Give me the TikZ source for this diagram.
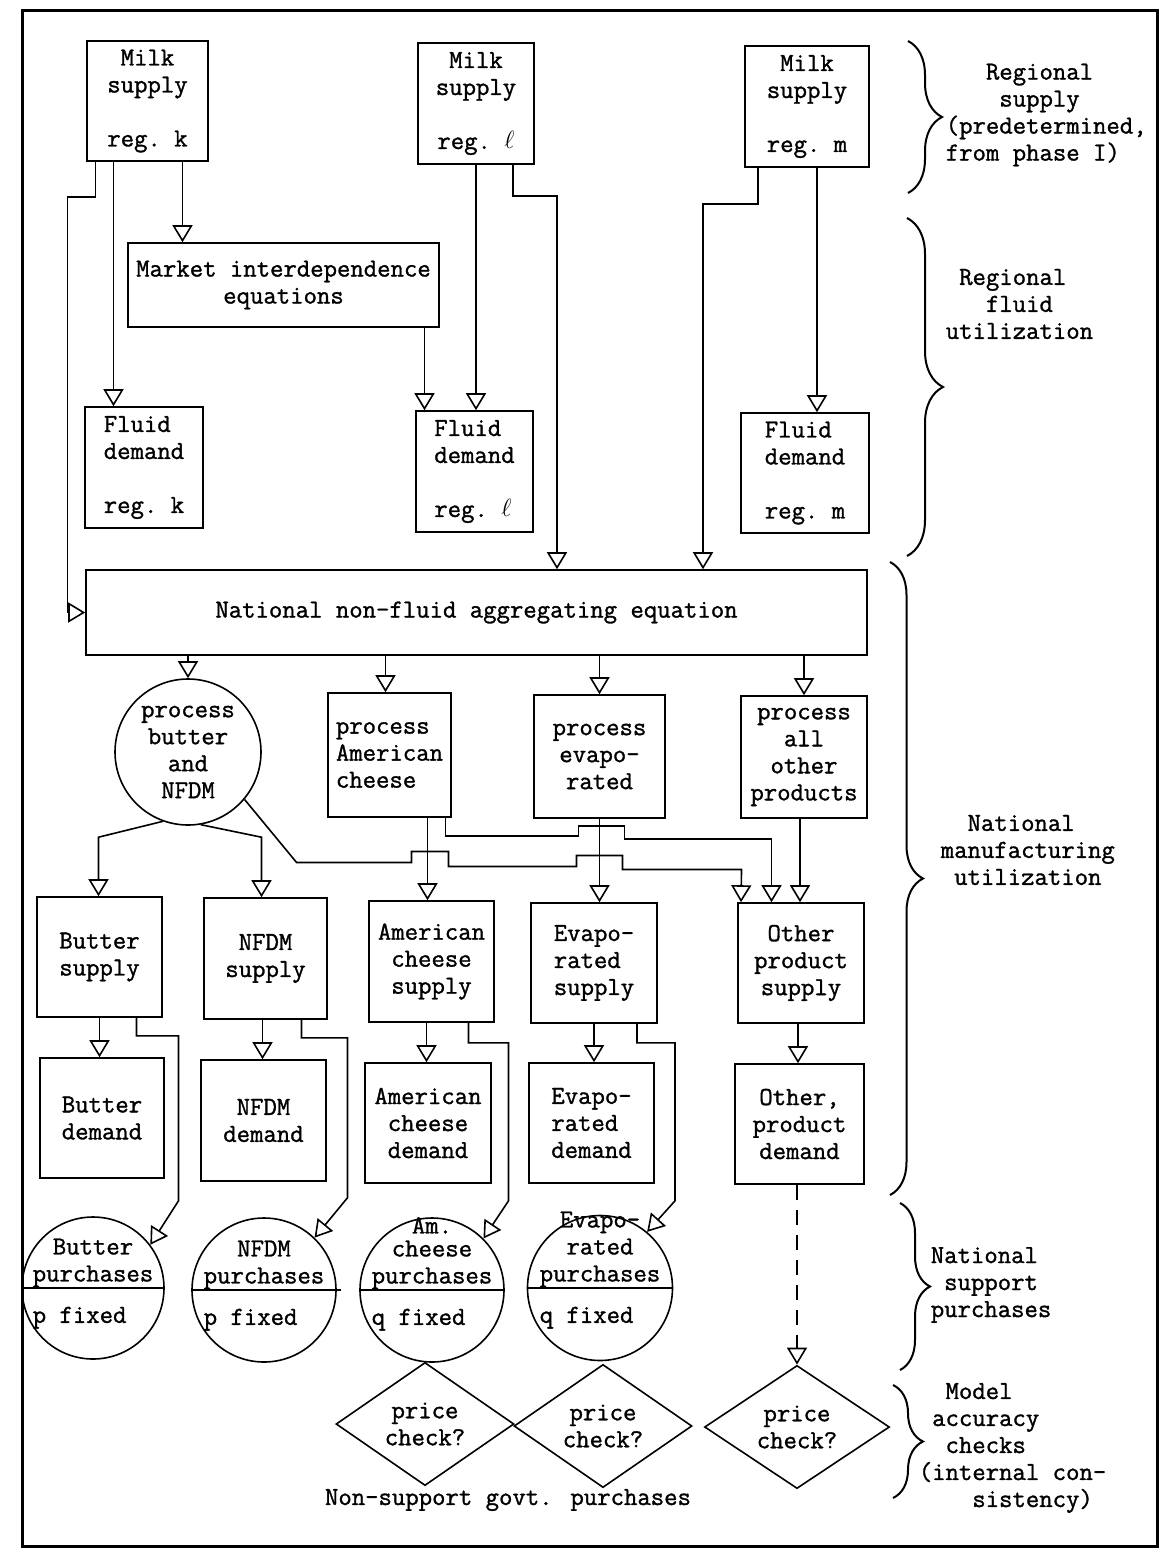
\documentclass[tikz,border=0pt]{standalone}
\usepackage{fontspec}
\usetikzlibrary{arrows.meta,calc,shapes.geometric,decorations.pathreplacing}
\newfontfamily\twface{Latin Modern Mono}[FakeBold=1.2]
\newcommand{\twfont}{\twface\fontsize{26}{27}\selectfont}

\begin{document}
\begin{tikzpicture}[
  x=1pt, y=-1pt,
  line width=1.6pt,
  font=\twfont,
  box/.style 2 args={draw, rectangle, inner sep=0pt, align=center, minimum width=#1, minimum height=#2},
  boxl/.style 2 args={box={#1}{#2}, align=left},
  rnd/.style={draw, circle, inner sep=0pt, align=center, minimum size=#1},
  chk/.style 2 args={draw, diamond, inner sep=0pt, align=center, minimum width=#1, minimum height=#2},
  ptx/.style={inner sep=0pt, align=center},
  lbl/.style={inner sep=0pt, align=left, anchor=west},
  arr/.style={-{Triangle[open, length=17pt, width=20pt]}},
  brc/.style={decorate, decoration={brace, amplitude=#1}, line width=2pt},
]
\useasboundingbox (0,0) rectangle (1164,1559);
\draw[line width=3pt] (22,10) rectangle (1157,1546);

% regional supply and fluid use
\node[box={121pt}{120pt}] (mk) at (147.5,101) {Milk\\supply\\[27pt]reg.~k};
\node[box={116pt}{121pt}] (ml) at (476,103.5) {Milk\\supply\\[27pt]reg.~$\ell$};
\node[box={124pt}{121pt}] (mm) at (807,106.5) {Milk\\supply\\[27pt]reg.~m};
\node[box={311pt}{84pt}] (mie) at (283.5,285) {Market interdependence\\equations};
\node[boxl={118pt}{121pt}] (fk) at (144,467.5) {Fluid\\demand\\[27pt]reg.~k};
\node[boxl={117pt}{121pt}] (fl) at (474.5,471.5) {Fluid\\demand\\[27pt]reg.~$\ell$};
\node[boxl={128pt}{120pt}] (fm) at (805,473) {Fluid\\demand\\[27pt]reg.~m};

% national manufacturing
\node[box={781pt}{85pt}] (nat) at (476.5,612.5) {National non-fluid aggregating equation};
\node[rnd=146pt] (pbn) at (188,752) {process\\butter\\and\\NFDM};
\node[boxl={123pt}{124pt}] (pac) at (389.5,755) {process\\American\\cheese};
\node[box={131pt}{123pt}] (pev) at (599.5,756.5) {process\\evapo-\\rated};
\node[box={126pt}{122pt}] (pao) at (804,757) {process\\all\\other\\products};

\node[box={125pt}{120pt}] (bs) at (99.5,957) {Butter\\supply};
\node[box={123pt}{121pt}] (ns) at (265.5,958.5) {NFDM\\supply};
\node[box={125pt}{121pt}] (cs) at (431.5,961.5) {American\\cheese\\supply};
\node[boxl={126pt}{120pt}] (es) at (594,963) {Evapo-\\rated\\supply};
\node[box={126pt}{120pt}] (os) at (801,963) {Other\\product\\supply};

\node[box={124pt}{120pt}] (bd) at (102,1118) {Butter\\demand};
\node[box={125pt}{121pt}] (nd) at (263.5,1120.5) {NFDM\\demand};
\node[box={126pt}{120pt}] (cd) at (428,1123) {American\\cheese\\demand};
\node[boxl={125pt}{120pt}] (ed) at (591.5,1123) {Evapo-\\rated\\demand};
\node[box={129pt}{120pt}] (od) at (799.5,1124) {Other,\\product\\demand};

% support purchases
\node[rnd=142pt] (bp) at (93,1288) {};
\node[rnd=144pt] (np) at (264,1290) {};
\node[rnd=144pt] (cp) at (432,1290) {};
\node[rnd=145pt] (ep) at (600,1288) {};
\draw (bp.west) -- (bp.east);
\draw (np.west) -- ([xshift=4pt]np.east);
\draw (cp.west) -- (cp.east);
\draw (ep.west) -- (ep.east);
\node[ptx, anchor=south] (bpu) at (bp.center) {Butter\\purchases};
\node[ptx, anchor=north] (bpl) at ($(bp.center)+(0,18)$) {p fixed\phantom{xx}};
\node[ptx, anchor=south] (npu) at (np.center) {NFDM\\purchases};
\node[ptx, anchor=north] (npl) at ($(np.center)+(0,18)$) {p fixed\phantom{xx}};
\node[ptx, anchor=south] (cpu) at (cp.center) {Am.\\[-4pt]cheese\\purchases};
\node[ptx, anchor=north] (cpl) at ($(cp.center)+(0,18)$) {q fixed\phantom{xx}};
\node[ptx, anchor=south] (epu) at (ep.center) {Evapo-\\rated\\purchases};
\node[ptx, anchor=north] (epl) at ($(ep.center)+(0,18)$) {q fixed\phantom{xx}};

% accuracy checks
\node[chk={178pt}{122pt}] (d1) at (425,1424) {price\\check?};
\node[chk={178pt}{118pt}] (d2) at (603,1426) {price\\check?};
\node[chk={185pt}{121pt}] (d3) at (797,1427) {price\\check?};
\node[ptx] (nsg) at (508,1500) {Non-support govt. purchases};

% connectors, regional
\draw[arr] ($(mk.south)+(-34,0)$) -- ($(mk.south |- fk.north)+(-34,0)$);
\draw[arr] ($(mk.south)+(35,0)$) -- ($(mk.south |- mie.north)+(35,0)$);
\draw[arr] ($(mk.south)+(-52,0)$) |- ++(-28,35) |- (nat.west);
\draw[arr] (ml.south) -- (ml.south |- fl.north);
\draw[arr] ($(mie.south)+(141,0)$) -- ($(mie.south |- fl.north)+(141,0)$);
\draw[arr] ($(ml.south)+(37,0)$) -- ++(0,31) -| ($(ml.south |- nat.north)+(81,0)$);
\draw[arr] ($(mm.south)+(10,0)$) -- ($(mm.south |- fm.north)+(10,0)$);
\draw[arr] ($(mm.south)+(-49,0)$) -- ++(0,36) -| ($(mm.south |- nat.north)+(-104,0)$);

% connectors, national
\draw[arr] (pbn.north |- nat.south) -- (pbn.north);
\draw[arr] ($(pac.north |- nat.south)+(-4,0)$) -- ($(pac.north)+(-4,0)$);
\draw[arr] (pev.north |- nat.south) -- (pev.north);
\draw[arr] (pao.north |- nat.south) -- (pao.north);

\draw[arr] (pbn.250) -- ($(bs.north)+(-1,-59)$) -- ($(bs.north)+(-1,0)$);
\draw[arr] (pbn.280) -- ($(ns.north)+(-4,-60)$) -- ($(ns.north)+(-4,0)$);
\draw[arr] (pbn.320) -- ++(52,63) -- ++(115,0) |- ++(37,-11) |- ++(128,15) |- ++(46,-11) |- ++(119,14) -- ($(os.north)+(-60,0)$);
\draw[arr] ($(pac.south)+(38,0)$) -- ($(pac.south |- cs.north)+(38,0)$);
\draw[arr] ($(pac.south)+(56,0)$) |- ++(133,18) |- ++(46,-10) |- ++(147,13) -- ($(os.north)+(-29.5,0)$);
\draw[arr] (pev.south) -- (pev.south |- es.north);
\draw[arr] ($(pao.south)+(-4,0)$) -- ($(pao.south |- os.north)+(-4,0)$);

\draw[arr] (bs.south) -- (bs.south |- bd.north);
\draw[arr] ($(ns.south)+(-3,0)$) -- ($(ns.south |- nd.north)+(-3,0)$);
\draw[arr] ($(cs.south)+(-5,0)$) -- ($(cs.south |- cd.north)+(-5,0)$);
\draw[arr] (es.south) -- (es.south |- ed.north);
\draw[arr] ($(os.south)+(-3,0)$) -- ($(os.south |- od.north)+(-3,0)$);

\draw[arr] ($(bs.south)+(37,0)$) |- ++(42,18) -- ++(0,165) -- (bp.37);
\draw[arr] ($(ns.south)+(36,0)$) |- ++(46,18) -- ++(0,160) -- (np.46);
\draw[arr] ($(cs.south)+(37,0)$) |- ++(40,20) -- ++(0,158) -- (cp.45);
\draw[arr] ($(es.south)+(43,0)$) |- ++(38,19) -- ++(0,158) -- (ep.50);
\draw[arr, dash pattern=on 15pt off 10pt] (d3.north |- od.south) -- (d3.north);

% braces
\draw[brc=34pt] (908,41) -- (908,193);
\draw[brc=36pt] (907,218) -- (907,556);
\draw[brc=33pt] (890,562) -- (890,1195);
\draw[brc=30pt] (900,1203) -- (900,1370);
\draw[brc=30pt] (893,1385) -- (893,1498);
\node[lbl] (rs) at (945,115) {\phantom{xxx}Regional\\\phantom{xxxx}supply\\(predetermined,\\from phase I)};
\node[lbl] (rf) at (945,304) {\phantom{x}Regional\\\phantom{xxx}fluid\\utilization};
\node[lbl] (nm) at (940,850) {\phantom{xx}National\\manufacturing\\\phantom{x}utilization};
\node[lbl] (nsp) at (930,1285) {National\\\phantom{x}support\\purchases};
\node[lbl] (mac) at (918,1448) {\phantom{xx}Model\\\phantom{x}accuracy\\\phantom{xx}checks\\(internal con-\\\phantom{xxxx}sistency)};
\end{tikzpicture}
\end{document}
